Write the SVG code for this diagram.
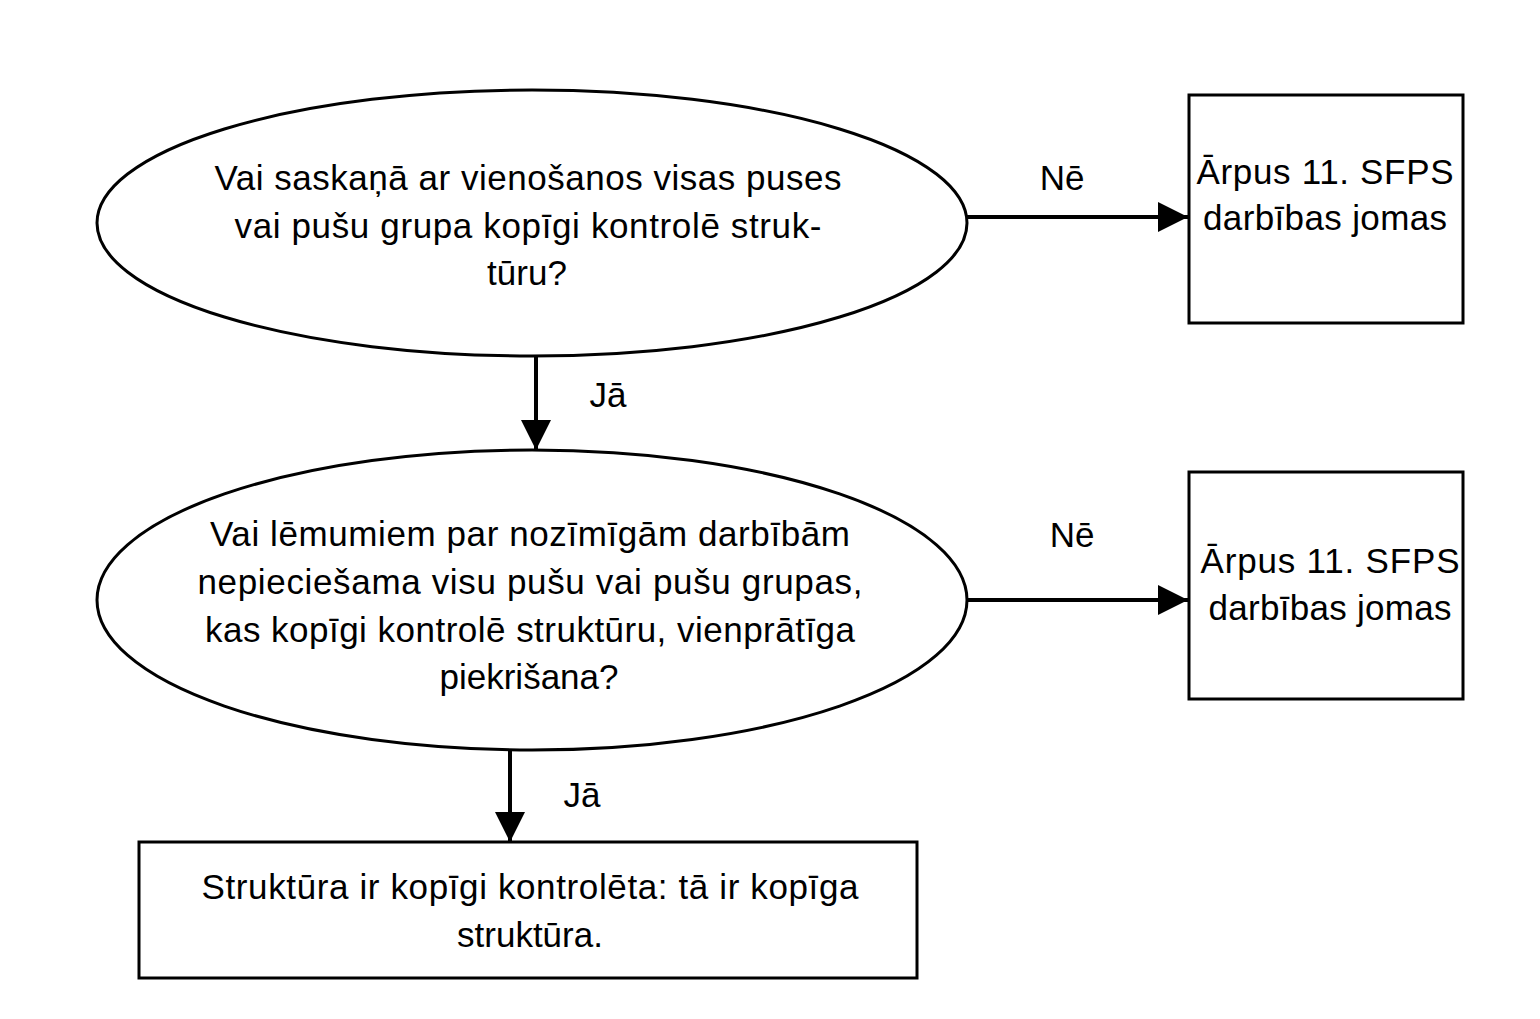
<svg xmlns="http://www.w3.org/2000/svg" width="1540" height="1019" viewBox="0 0 1540 1019">
<style>
.shape{fill:#fff;stroke:#000;stroke-width:3}
.t{font-family:"Liberation Sans",Arial,sans-serif;font-size:35px;fill:#000;text-anchor:middle}
.c{stroke:#000;stroke-width:4;fill:none}
</style>
<defs>
<marker id="a" viewBox="0 0 30 30" refX="30" refY="15" markerWidth="30" markerHeight="30" markerUnits="userSpaceOnUse" orient="auto">
<path d="M0,0 L30,15 L0,30 z" fill="#000"/>
</marker>
</defs>
<rect width="1540" height="1019" fill="#fff"/>
<g id="q1">
<ellipse class="shape" cx="532" cy="223" rx="435" ry="133"/>
<text class="t" x="528" y="190" textLength="627">Vai saskaņā ar vienošanos visas puses</text>
<text class="t" x="528" y="238" textLength="587">vai pušu grupa kopīgi kontrolē struk-</text>
<text class="t" x="527" y="285">tūru?</text>
</g>
<g id="q2">
<ellipse class="shape" cx="532" cy="600" rx="435" ry="150"/>
<text class="t" x="530" y="546" textLength="640">Vai lēmumiem par nozīmīgām darbībām</text>
<text class="t" x="530" y="594" textLength="665">nepieciešama visu pušu vai pušu grupas,</text>
<text class="t" x="530" y="642" textLength="650">kas kopīgi kontrolē struktūru, vienprātīga</text>
<text class="t" x="529" y="689">piekrišana?</text>
</g>
<g id="out1">
<rect class="shape" x="1189" y="95" width="274" height="228"/>
<text class="t" x="1325" y="184" textLength="257">Ārpus 11. SFPS</text>
<text class="t" x="1325" y="230" textLength="244">darbības jomas</text>
</g>
<g id="out2">
<rect class="shape" x="1189" y="472" width="274" height="227"/>
<text class="t" x="1330" y="573" textLength="259">Ārpus 11. SFPS</text>
<text class="t" x="1330" y="620" textLength="243">darbības jomas</text>
</g>
<g id="res">
<rect class="shape" x="139" y="842" width="778" height="136"/>
<text class="t" x="530" y="899" textLength="657">Struktūra ir kopīgi kontrolēta: tā ir kopīga</text>
<text class="t" x="530" y="947">struktūra.</text>
</g>
<g id="connectors">
<line class="c" x1="967" y1="217" x2="1188" y2="217" marker-end="url(#a)"/>
<line class="c" x1="967" y1="600" x2="1188" y2="600" marker-end="url(#a)"/>
<line class="c" x1="536" y1="357" x2="536" y2="450" marker-end="url(#a)"/>
<line class="c" x1="510" y1="750" x2="510" y2="842" marker-end="url(#a)"/>
<text class="t" x="1062" y="190">Nē</text>
<text class="t" x="1072" y="547">Nē</text>
<text class="t" x="608" y="407">Jā</text>
<text class="t" x="582" y="807">Jā</text>
</g>
</svg>
